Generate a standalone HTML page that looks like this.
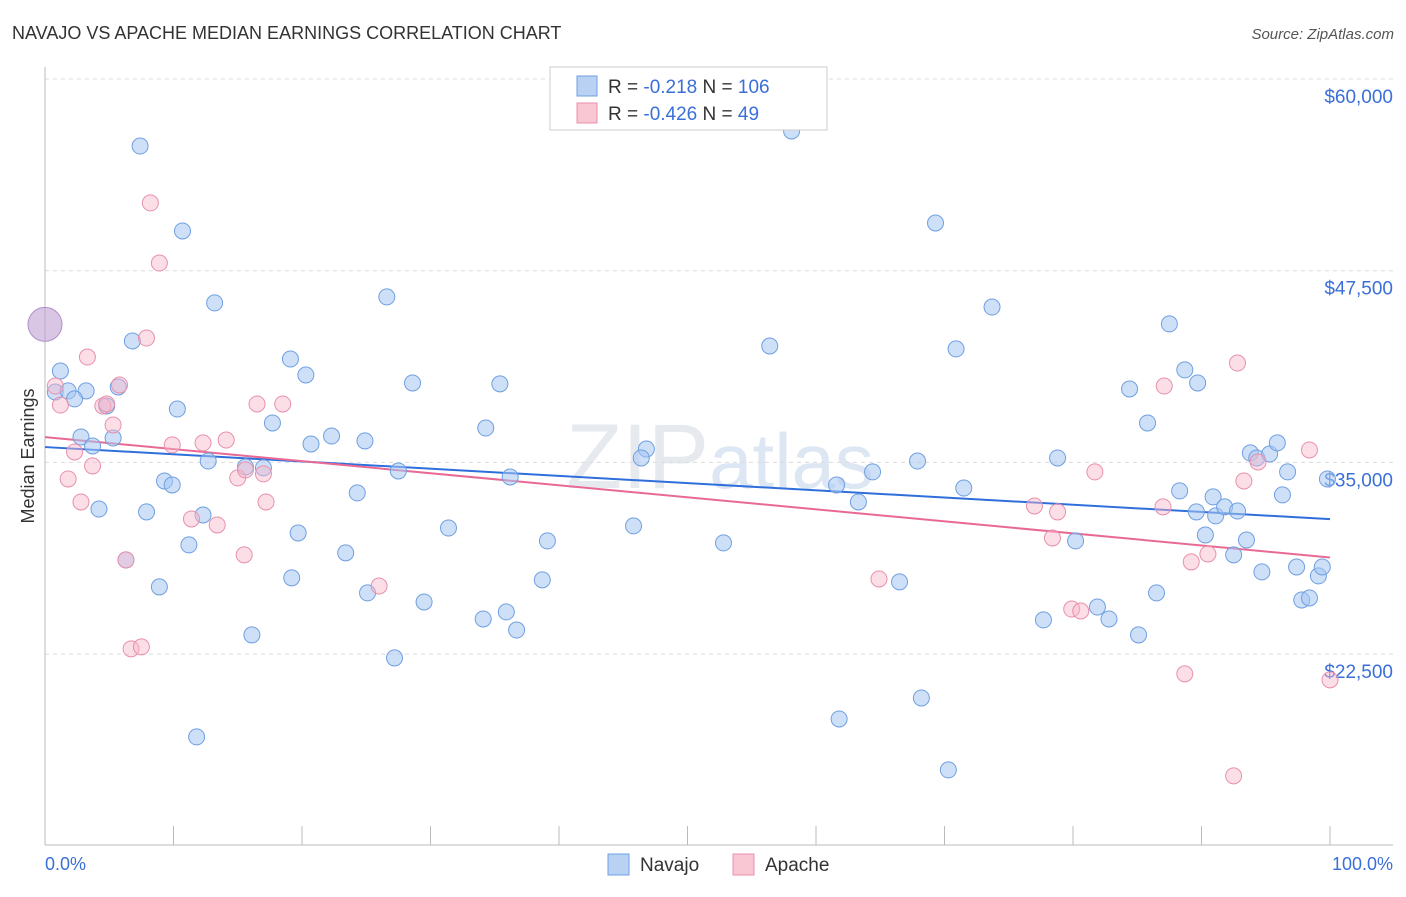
<!DOCTYPE html>
<html><head><meta charset="utf-8">
<style>
body{margin:0;background:#fff;font-family:"Liberation Sans",sans-serif;}
svg text{font-family:"Liberation Sans",sans-serif;}
</style></head>
<body>
<svg id="chart" width="1406" height="892" xmlns="http://www.w3.org/2000/svg">
<text x="12" y="39" font-size="18" fill="#333">NAVAJO VS APACHE MEDIAN EARNINGS CORRELATION CHART</text>
<text x="1394" y="39" font-size="15" fill="#555" text-anchor="end" font-style="italic">Source: ZipAtlas.com</text>
<text x="720" y="488" font-size="92" fill="#e6e9ee" text-anchor="middle" font-family="Liberation Serif">ZIP<tspan fill="#dde6f3" font-family="Liberation Sans" font-size="78">atlas</tspan></text>
<g id="grid"></g>
<g id="axes"></g>
<g id="trend"></g>
<g id="points"></g>
<text transform="translate(34,456) rotate(-90)" font-size="18" fill="#333" text-anchor="middle">Median Earnings</text>
<text x="45" y="870" font-size="18" fill="#3a6fd8">0.0%</text>
<text x="1393" y="870" font-size="18" fill="#3a6fd8" text-anchor="end">100.0%</text>
<g>
<rect x="550" y="67" width="277" height="63" fill="#fff" stroke="#ccc"/>
<rect x="577" y="76" width="20" height="20" fill="#b9d2f4" stroke="#6f9fe0"/>
<rect x="577" y="103" width="20" height="20" fill="#f9c6d4" stroke="#e890ac"/>
<text x="608" y="93" font-size="19" fill="#333">R = <tspan fill="#3a6fd8">-0.218</tspan>   N = <tspan fill="#3a6fd8">106</tspan></text>
<text x="608" y="120" font-size="19" fill="#333">R = <tspan fill="#3a6fd8">-0.426</tspan>   N = <tspan fill="#3a6fd8"> 49</tspan></text>
</g>
<g>
<rect x="608" y="854" width="21" height="21" fill="#b9d2f4" stroke="#6f9fe0"/>
<text x="640" y="871" font-size="19" fill="#333">Navajo</text>
<rect x="733" y="854" width="21" height="21" fill="#f9c6d4" stroke="#e890ac"/>
<text x="765" y="871" font-size="19" fill="#333">Apache</text>
</g>
</svg>
<script>
const yTicks=[60000,47500,35000,22500];
const yTickLabels=["$60,000","$47,500","$35,000","$22,500"];
const xTicks=[0,10,20,30,40,50,60,70,80,90,100];
const navajoX=[7.4,10.7,13.2,26.6,58.1,69.3,73.7,87.5,56.4,70.9,6.8,19.1,20.3,1.2,0.8,1.8,3.2,2.3,5.7,4.8,10.3,28.6,35.4,84.4,88.7,89.7,17.7,34.3,85.8,2.8,5.3,3.7,22.3,20.7,24.9,46.8,46.4,12.7,15.6,17.0,27.5,36.2,64.4,67.9,78.8,93.8,94.3,95.3,95.9,96.7,99.8,9.3,9.9,24.3,61.6,63.3,71.5,88.3,90.9,96.3,4.2,7.9,12.3,89.6,91.1,91.8,92.8,31.4,45.8,19.7,11.2,39.1,52.8,80.2,93.5,90.3,23.4,92.5,6.3,94.7,97.4,99.1,99.4,19.2,38.7,66.5,8.9,25.1,86.5,29.5,97.8,98.4,81.9,35.9,34.1,77.7,82.8,36.7,16.1,85.1,27.2,61.8,68.2,11.8,70.3];
const navajoY=[55630,50090,45400,45790,56610,50610,45130,44030,42590,42400,42920,41740,40700,40960,39590,39660,39660,39140,39920,38680,38480,40180,40120,39790,41030,40180,37570,37240,37570,36660,36590,36070,36720,36200,36400,35870,35290,35090,34700,34640,34440,34050,34380,35090,35290,35620,35290,35550,36270,34380,33920,33790,33530,33010,33530,32420,33330,33140,32750,32880,31960,31770,31570,31770,31510,32100,31830,30720,30860,30400,29620,29880,29750,29880,29940,30270,29100,28970,28640,27860,28180,27600,28180,27470,27340,27210,26880,26490,26490,25900,26030,26160,25570,25250,24790,24730,24790,24070,23750,23750,22250,18270,19640,17100,14950];
const apacheX=[8.2,8.9,7.9,3.3,0.8,5.8,1.2,4.5,4.8,5.3,16.5,18.5,2.3,3.7,9.9,12.3,14.1,1.8,2.8,15.0,15.6,17.0,17.2,11.4,13.4,6.3,15.5,26.0,6.7,7.5,92.8,87.1,81.7,94.4,98.4,93.3,77.0,78.8,87.0,78.4,64.9,79.9,80.6,89.2,90.5,88.7,100,92.5];
const apacheY=[51920,48000,43110,41870,39980,40050,38740,38680,38810,37440,38810,38810,35680,34770,36140,36270,36460,33920,32420,33990,34510,34250,32420,31310,30920,28640,28970,26940,22840,22970,41480,39980,34380,35030,35810,33790,32160,31770,32100,30070,27400,25440,25310,28510,29030,21210,20820,14560];
const bigX=[0];const bigY=[44000];
const navajoTrend=[36000,31300];
const apacheTrend=[36650,28800];
const NS="http://www.w3.org/2000/svg";
const xs=p=>45+p/100*1285;
const ys=v=>79+(60000-v)/12500*191.7;
function mk(t,a,parent){const e=document.createElementNS(NS,t);for(const k in a)e.setAttribute(k,a[k]);document.getElementById(parent).appendChild(e);return e;}
yTicks.forEach((v,i)=>{
 const l=mk('line',{x1:45,x2:1393,y1:ys(v),y2:ys(v),stroke:'#dcdcdc','stroke-dasharray':'4,4'},'grid');
 
 
 const t=mk('text',{x:1393,y:ys(v)+24,'font-size':19,fill:'#3a6fd8','text-anchor':'end'},'grid');
 t.textContent=yTickLabels[i];
 
 
});
let a=mk('line',{x1:45,x2:45,y1:67,y2:845,stroke:'#bbb'},'axes');


a=mk('line',{x1:45,x2:1393,y1:845,y2:845,stroke:'#bbb'},'axes');


xTicks.forEach(p=>{
 const t=mk('line',{x1:xs(p),x2:xs(p),y1:826,y2:845,stroke:'#bbb'},'axes');
 
 
});
function dots(X,Y,fill,stroke,name,r){
 X.forEach((x,i)=>{
  const c=mk('circle',{cx:xs(x),cy:ys(Y[i]),r:r,fill:fill,stroke:stroke,'stroke-width':1},'points');
  
  
 });
}
dots(navajoX,navajoY,'rgba(165,198,242,0.55)','#6f9fe0','navajo-point',8);
dots(apacheX,apacheY,'rgba(248,182,202,0.45)','#e890ac','apache-point',8);
dots(bigX,bigY,'rgba(190,160,210,0.6)','#b090c8','large-point',17);
let tl=mk('line',{x1:xs(0),y1:ys(navajoTrend[0]),x2:xs(100),y2:ys(navajoTrend[1]),stroke:'#2f6fdc','stroke-width':2},'trend');


tl=mk('line',{x1:xs(0),y1:ys(apacheTrend[0]),x2:xs(100),y2:ys(apacheTrend[1]),stroke:'#e86a94','stroke-width':2},'trend');


</script>
</body></html>
